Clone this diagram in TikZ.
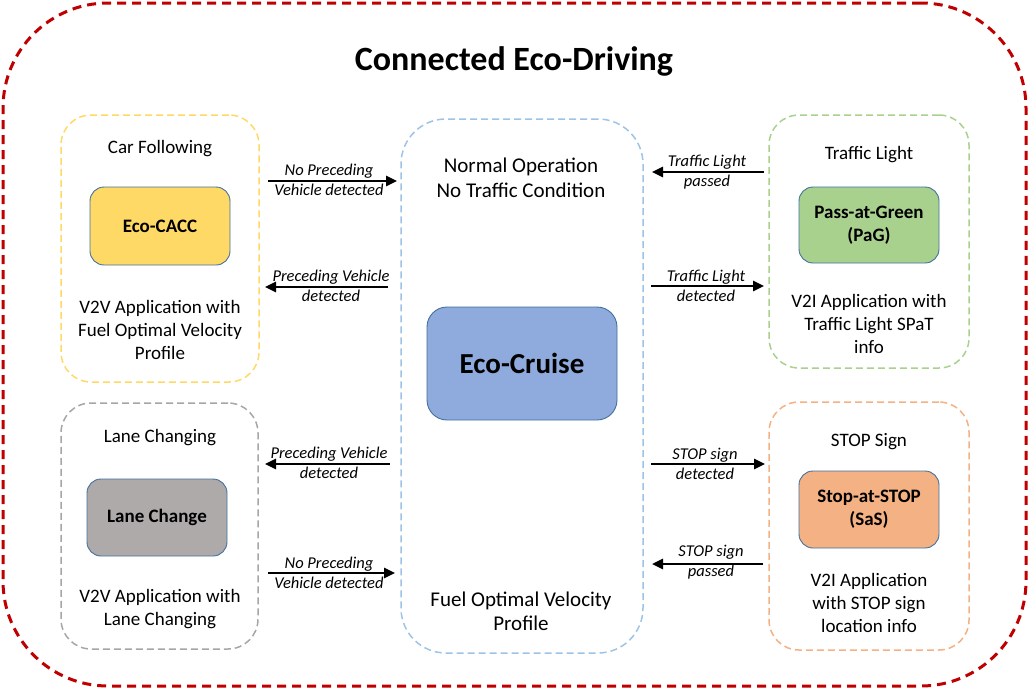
\documentclass[tikz,border=0pt]{standalone}
\usepackage{fontspec}
\setmainfont{Carlito}
\usetikzlibrary{arrows.meta}
\definecolor{redc}{HTML}{C00000}
\definecolor{yelc}{HTML}{FFD966}
\definecolor{grayc}{HTML}{A6A6A6}
\definecolor{bluec}{HTML}{9DC3E6}
\definecolor{greenc}{HTML}{A9D18E}
\definecolor{orangec}{HTML}{F4B183}
\definecolor{cruisec}{HTML}{8FAADC}
\definecolor{lanec}{HTML}{AEAAAA}
\definecolor{edgec}{HTML}{41719C}
\tikzset{
  cont/.style={draw=#1, line width=1.5pt, dash pattern=on 7pt off 4pt, rounded corners=30pt, inner sep=0pt},
  modebox/.style={draw=edgec, fill=#1, line width=0.9pt, rounded corners=14pt, align=center, font=\fontsize{19}{23}\selectfont\bfseries},
  body/.style={align=center, font=\fontsize{19}{23}\selectfont, inner sep=0pt},
  lbl/.style={align=center, font=\fontsize{16.5}{20}\selectfont\itshape, inner sep=0pt},
  arr/.style={-{Triangle[length=11pt,width=10pt]}, line width=2.5pt},
}
\begin{document}
\begin{tikzpicture}[x=1pt,y=-1pt]
\useasboundingbox (0,0) rectangle (1029,689);
% outer frame
\node[draw=redc, line width=3pt, dash pattern=on 9pt off 6pt, rounded corners=105pt,
      minimum width=1023pt, minimum height=683pt, inner sep=0pt] (outer) at (514.5,344.5) {};
\node[font=\fontsize{34}{40}\selectfont\bfseries, inner sep=0pt] (title) at (514,61) {Connected Eco-Driving};

% containers
\node[cont=yelc, minimum width=198pt, minimum height=267pt] (yel) at (160,248.5) {};
\node[cont=grayc, minimum width=197pt, minimum height=246pt] (gry) at (159.5,526) {};
\node[cont=bluec, rounded corners=45pt, minimum width=242pt, minimum height=534pt] (blu) at (522,386) {};
\node[cont=greenc, minimum width=200pt, minimum height=253pt] (grn) at (869,241.5) {};
\node[cont=orangec, minimum width=200pt, minimum height=248pt] (org) at (869,526) {};

% mode boxes
\node[modebox=yelc, minimum width=140pt, minimum height=78pt] (cacc) at (160,226) {Eco-CACC};
\node[modebox=lanec, minimum width=140pt, minimum height=77pt] (lane) at (157,517.5) {Lane Change};
\node[modebox=cruisec, minimum width=190pt, minimum height=113pt, rounded corners=20pt,
      font=\fontsize{29}{34}\selectfont\bfseries] (cruise) at (522,363.5) {Eco-Cruise};
\node[modebox=greenc, minimum width=140pt, minimum height=76pt] (pag) at (869,225) {Pass-at-Green\\(PaG)};
\node[modebox=orangec, minimum width=140pt, minimum height=77pt] (sas) at (869,509.5) {Stop-at-STOP\\(SaS)};

% texts
\node[body] (t1) at (160,149) {Car Following};
\node[body] (t2) at (160,330) {V2V Application with\\Fuel Optimal Velocity\\Profile};
\node[body] (t3) at (160,438) {Lane Changing};
\node[body] (t4) at (160,609) {V2V Application with\\Lane Changing};
\node[body, font=\fontsize{21}{25}\selectfont] (t5) at (521,177.5) {Normal Operation\\No Traffic Condition};
\node[body, font=\fontsize{21}{24}\selectfont] (t6) at (521,611) {Fuel Optimal Velocity\\Profile};
\node[body] (t7) at (869,155) {Traffic Light};
\node[body] (t8) at (869,323.5) {V2I Application with\\Traffic Light SPaT\\info};
\node[body] (t9) at (869,442) {STOP Sign};
\node[body] (t10) at (869,602.5) {V2I Application\\with STOP sign\\location info};

% arrow end points
\coordinate (a1s) at (268,181); \coordinate (a1e) at (397,181);
\coordinate (a2s) at (388,287); \coordinate (a2e) at (265,287);
\coordinate (a3s) at (390,464); \coordinate (a3e) at (265,464);
\coordinate (a4s) at (268,573); \coordinate (a4e) at (395,573);
\coordinate (a5s) at (764,172); \coordinate (a5e) at (652,172);
\coordinate (a6s) at (651,286); \coordinate (a6e) at (764,286);
\coordinate (a7s) at (651,464); \coordinate (a7e) at (765,464);
\coordinate (a8s) at (763,564); \coordinate (a8e) at (652,564);

\draw[arr] (a1s) -- (a1e);
\draw[arr] (a2s) -- (a2e);
\draw[arr] (a3s) -- (a3e);
\draw[arr] (a4s) -- (a4e);
\draw[arr] (a5s) -- (a5e);
\draw[arr] (a6s) -- (a6e);
\draw[arr] (a7s) -- (a7e);
\draw[arr] (a8s) -- (a8e);

% arrow labels
\node[lbl] (l1) at (329,180) {No Preceding\\Vehicle detected};
\node[lbl] (l2) at (331,286) {Preceding Vehicle\\detected};
\node[lbl] (l3) at (329,463) {Preceding Vehicle\\detected};
\node[lbl] (l4) at (329,573) {No Preceding\\Vehicle detected};
\node[lbl] (l5) at (707,172.5) {Traffic Light\\passed};
\node[lbl] (l6) at (706,286) {Traffic Light\\detected};
\node[lbl] (l7) at (705,464) {STOP sign\\detected};
\node[lbl] (l8) at (711,562) {STOP sign\\passed};
\end{tikzpicture}
\end{document}
